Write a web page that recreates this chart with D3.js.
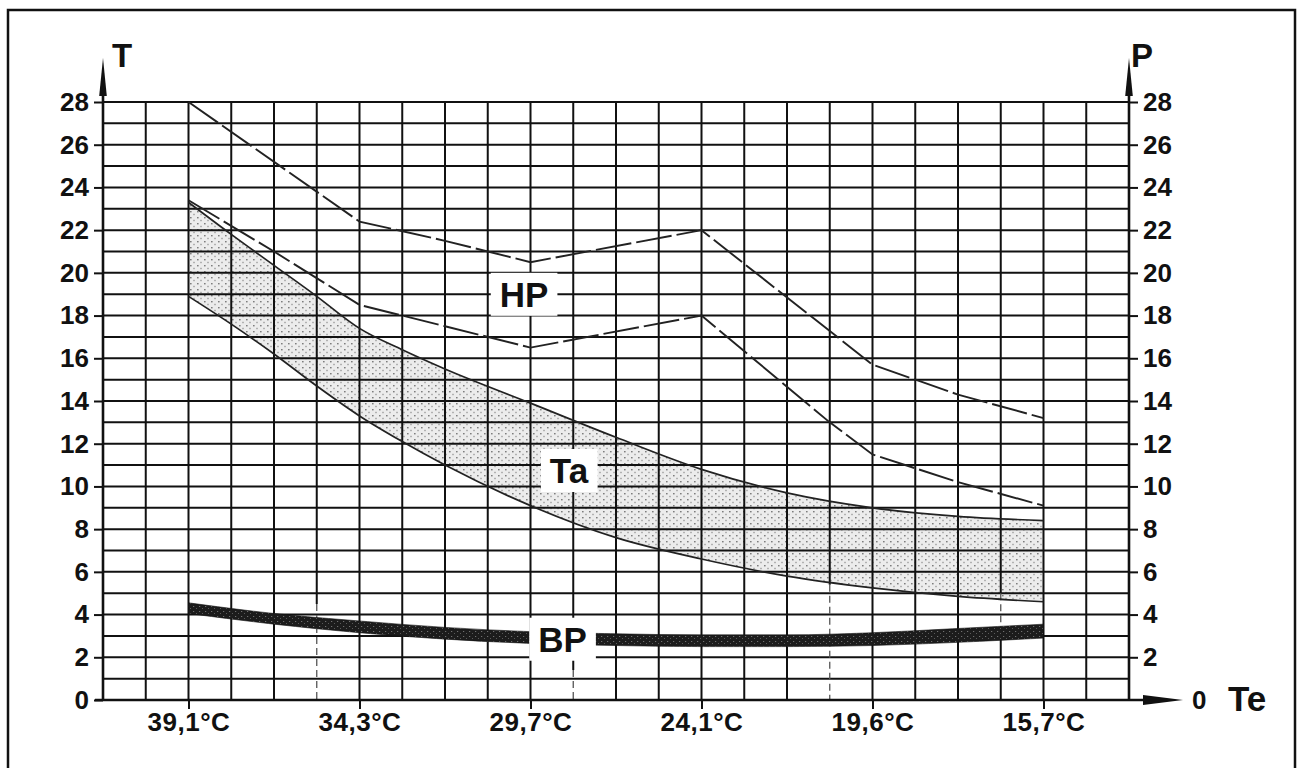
<!DOCTYPE html>
<html>
<head>
<meta charset="utf-8">
<script src="https://cdn.jsdelivr.net/npm/d3@7"></script>
<style>
  html, body { margin: 0; padding: 0; background: #fff; }
  svg { display: block; }
  text { font-family: "Liberation Sans", Arial, Helvetica, sans-serif; font-weight: bold; fill: #111; }
</style>
</head>
<body>
<svg id="chart" width="1298" height="768"></svg>
<script>
// ---------- data ----------
const xTickCols   = [2, 6, 10, 14, 18, 22];
const xTickLabels = ["39,1°C", "34,3°C", "29,7°C", "24,1°C", "19,6°C", "15,7°C"];
const yTickValues = [0, 2, 4, 6, 8, 10, 12, 14, 16, 18, 20, 22, 24, 26, 28];
const yRightTickValues = [2, 4, 6, 8, 10, 12, 14, 16, 18, 20, 22, 24, 26, 28];

// HP (high pressure) limits – dashed lines
const hpUpperX = [2, 6, 8, 10, 14, 18, 20, 22];
const hpUpperV = [28, 22.4, 21.5, 20.5, 22, 15.7, 14.3, 13.2];
const hpLowerX = [2, 4, 6, 8, 10, 14, 17, 18, 20, 22];
const hpLowerV = [23.4, 21.0, 18.5, 17.5, 16.5, 18.0, 13.0, 11.5, 10.2, 9.1];

// Ta band
const taX     = [2, 3, 4, 5, 6, 7, 8, 10, 12, 14, 16, 18, 20, 22];
const taUpper = [23.3, 21.8, 20.35, 18.9, 17.4, 16.4, 15.5, 13.9, 12.3, 10.8, 9.7, 9.0, 8.6, 8.4];
const taLower = [18.9, 17.6, 16.2, 14.7, 13.3, 12.1, 11.0, 9.1, 7.6, 6.6, 5.8, 5.25, 4.85, 4.6];

// BP (low pressure) band
const bpX     = [2, 4, 6, 8, 10, 12, 14, 16, 18, 20, 22];
const bpUpper = [4.55, 4.05, 3.7, 3.4, 3.2, 3.1, 3.05, 3.05, 3.15, 3.35, 3.55];
const bpLower = [4.05, 3.55, 3.15, 2.85, 2.65, 2.55, 2.5, 2.5, 2.55, 2.7, 2.9];

// curve labels (data coordinates)
const labelText = ["HP", "Ta", "BP"];
const labelCol  = [9.85, 10.9, 10.75];
const labelVal  = [19.0, 10.75, 2.85];

// grid columns whose lower part is dashed: [column, from value, to value]
const dashedCols = [[5, 4.5, 0], [11, 1.4, 0], [17, 5.4, 0], [21, 5.0, 3.4]];

const nCols = 24, nRows = 28;

// ---------- setup ----------
const svg = d3.select("#chart");
const x = d3.scaleLinear().domain([0, nCols]).range([103, 1129]);
const y = d3.scaleLinear().domain([0, nRows]).range([700, 102]);

// frame
svg.append("rect").attr("x", 8).attr("y", 10).attr("width", 1287).attr("height", 800)
  .attr("fill", "#fff").attr("stroke", "#111").attr("stroke-width", 2.5);

// patterns
const defs = svg.append("defs");
const pTa = defs.append("pattern").attr("id", "pTa").attr("patternUnits", "userSpaceOnUse")
  .attr("width", 7).attr("height", 6);
pTa.append("rect").attr("width", 7).attr("height", 6).attr("fill", "#ececec");
pTa.append("rect").attr("x", 1).attr("y", 1).attr("width", 1.6).attr("height", 1.4).attr("fill", "#7d7d7d");
pTa.append("rect").attr("x", 4.3).attr("y", 3.8).attr("width", 1.4).attr("height", 1.4).attr("fill", "#9a9a9a");

const pBp = defs.append("pattern").attr("id", "pBp").attr("patternUnits", "userSpaceOnUse")
  .attr("width", 6).attr("height", 5);
pBp.append("rect").attr("width", 6).attr("height", 5).attr("fill", "#1c1c1c");
pBp.append("rect").attr("x", 1).attr("y", 1).attr("width", 1.2).attr("height", 1).attr("fill", "#707070");
pBp.append("rect").attr("x", 4).attr("y", 3).attr("width", 1).attr("height", 1).attr("fill", "#5a5a5a");

// Ta band (below grid)
const taData = taX.map((c, i) => ({c, u: taUpper[i], l: taLower[i]}));
svg.append("path").datum(taData)
  .attr("d", d3.area().x(d => x(d.c)).y0(d => y(d.l)).y1(d => y(d.u)).curve(d3.curveMonotoneX))
  .attr("fill", "url(#pTa)");

// grid
const grid = svg.append("g");
grid.selectAll("line.h").data(d3.range(0, nRows + 1)).join("line")
  .attr("x1", x(0)).attr("x2", x(nCols)).attr("y1", d => y(d)).attr("y2", d => y(d))
  .attr("stroke", "#111").attr("stroke-width", 2);
const dashMap = new Map(dashedCols.map(d => [d[0], d]));
grid.selectAll("line.v").data(d3.range(1, nCols)).join("line")
  .attr("x1", d => x(d)).attr("x2", d => x(d))
  .attr("y1", y(nRows))
  .attr("y2", d => dashMap.has(d) ? y(dashMap.get(d)[1]) : y(0))
  .attr("stroke", "#111").attr("stroke-width", 2);
grid.selectAll("line.vb").data(dashedCols.filter(d => d[2] > 0)).join("line")
  .attr("x1", d => x(d[0])).attr("x2", d => x(d[0]))
  .attr("y1", d => y(d[2])).attr("y2", y(0))
  .attr("stroke", "#111").attr("stroke-width", 2);
grid.selectAll("line.vd").data(dashedCols).join("line")
  .attr("x1", d => x(d[0])).attr("x2", d => x(d[0]))
  .attr("y1", d => y(d[1])).attr("y2", d => y(d[2]))
  .attr("stroke", "#555").attr("stroke-width", 1.3).attr("stroke-dasharray", "7,4");

// Ta edges
svg.append("path").datum(taData)
  .attr("d", d3.line().x(d => x(d.c)).y(d => y(d.u)).curve(d3.curveMonotoneX))
  .attr("fill", "none").attr("stroke", "#222").attr("stroke-width", 1.7);
svg.append("path").datum(taData)
  .attr("d", d3.line().x(d => x(d.c)).y(d => y(d.l)).curve(d3.curveMonotoneX))
  .attr("fill", "none").attr("stroke", "#222").attr("stroke-width", 1.7);

// HP dashed lines
const hpLine = d3.line().x(d => x(d[0])).y(d => y(d[1]));
[[hpUpperX, hpUpperV], [hpLowerX, hpLowerV]].forEach(([xs, vs]) => {
  svg.append("path").datum(xs.map((c, i) => [c, vs[i]]))
    .attr("d", hpLine).attr("fill", "none")
    .attr("stroke", "#222").attr("stroke-width", 1.9).attr("stroke-dasharray", "36,5");
});

// BP band
const bpData = bpX.map((c, i) => ({c, u: bpUpper[i], l: bpLower[i]}));
svg.append("path").datum(bpData)
  .attr("d", d3.area().x(d => x(d.c)).y0(d => y(d.l)).y1(d => y(d.u)).curve(d3.curveMonotoneX))
  .attr("fill", "url(#pBp)").attr("stroke", "#111").attr("stroke-width", 0.6);

// axes lines + arrows
svg.append("line").attr("x1", x(0)).attr("x2", x(0)).attr("y1", y(0) + 1).attr("y2", 92)
  .attr("stroke", "#111").attr("stroke-width", 2.6);
svg.append("line").attr("x1", x(nCols)).attr("x2", x(nCols)).attr("y1", y(0) + 1).attr("y2", 92)
  .attr("stroke", "#111").attr("stroke-width", 2.6);
svg.append("line").attr("x1", x(0) - 8).attr("x2", 1165).attr("y1", y(0)).attr("y2", y(0))
  .attr("stroke", "#111").attr("stroke-width", 2.6);
const arrowUp = xc => `M${xc - 3.8},96 L${xc},58 L${xc + 3.8},96 Z`;
svg.append("path").attr("d", arrowUp(x(0))).attr("fill", "#111");
svg.append("path").attr("d", arrowUp(x(nCols))).attr("fill", "#111");
svg.append("path").attr("d", `M1143,695 L1183,${y(0)} L1143,705 Z`).attr("fill", "#111");

// axes ticks & labels
const gl = svg.append("g").attr("transform", `translate(${x(0)},0)`)
  .call(d3.axisLeft(y).tickValues(yTickValues).tickSize(9).tickPadding(5).tickFormat(d3.format("d")));
const gr = svg.append("g").attr("transform", `translate(${x(nCols)},0)`)
  .call(d3.axisRight(y).tickValues(yRightTickValues).tickSize(9).tickPadding(5).tickFormat(d3.format("d")));
const gb = svg.append("g").attr("transform", `translate(0,${y(0)})`)
  .call(d3.axisBottom(x).tickValues(xTickCols).tickSize(9).tickPadding(4)
    .tickFormat((d, i) => xTickLabels[i]));
[gl, gr, gb].forEach(g => {
  g.select(".domain").remove();
  g.selectAll(".tick line").attr("stroke", "#111").attr("stroke-width", 2);
  g.selectAll(".tick text").style("font-weight", "bold")
    .style("font-family", '"Liberation Sans", Arial, sans-serif').attr("fill", "#111");
});
gl.selectAll(".tick text").style("font-size", "26px");
gr.selectAll(".tick text").style("font-size", "26px");
gb.selectAll(".tick text").style("font-size", "26px").style("letter-spacing", "0.5px");

// axis titles
svg.append("text").attr("x", 112).attr("y", 67).style("font-size", "33px").text("T");
svg.append("text").attr("x", 1131).attr("y", 67).style("font-size", "33px").text("P");
svg.append("text").attr("x", 1192).attr("y", y(0) + 9).style("font-size", "26px").text("0");
svg.append("text").attr("x", 1228).attr("y", y(0) + 11).style("font-size", "35px").text("Te");

// curve labels with white boxes
labelText.forEach((t, i) => {
  const g = svg.append("g").attr("transform", `translate(${x(labelCol[i])},${y(labelVal[i])})`);
  const txt = g.append("text").attr("text-anchor", "middle").attr("dy", "0.36em")
    .style("font-size", "35px").text(t);
  const bb = txt.node().getBBox();
  g.insert("rect", "text").attr("x", bb.x - 9).attr("y", bb.y - 2)
    .attr("width", bb.width + 18).attr("height", bb.height + 4).attr("fill", "#fff");
});
</script>
</body>
</html>
